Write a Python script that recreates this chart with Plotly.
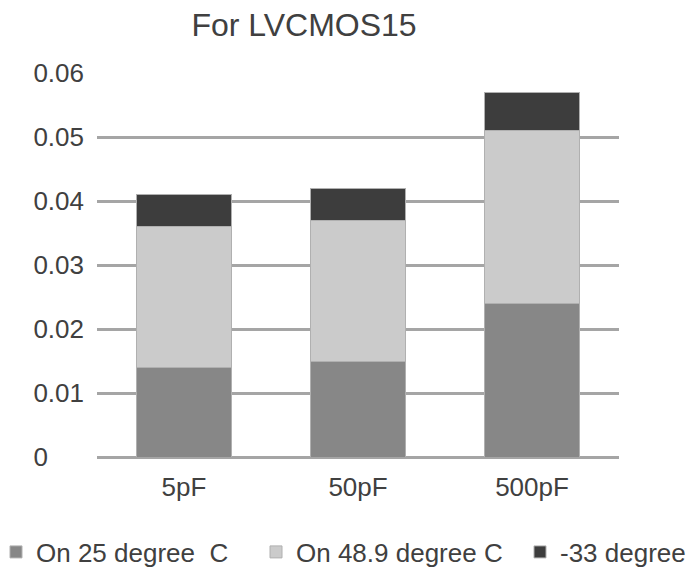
import plotly.graph_objects as go

categories = ["5pF", "50pF", "500pF"]
series_names = ["On 25 degree \u00a0C", "On 48.9 degree C", "-33 degree"]
on_25 = [0.014, 0.015, 0.024]
on_48_9 = [0.022, 0.022, 0.027]
minus_33 = [0.005, 0.005, 0.006]
colors = ["#878787", "#cbcbcb", "#3d3d3d"]
y_tickvals = [0, 0.01, 0.02, 0.03, 0.04, 0.05, 0.06]
y_ticktext = ["0\u2008\u2007\u2007", "0.01", "0.02", "0.03", "0.04", "0.05", "0.06"]

FONT = "Liberation Sans, Arial, sans-serif"
TXT = "#404040"
W, H = 687, 561
L, R, T, B = 89, 76, 65, 112
PW = W - L - R

legend_ids = ["legend", "legend2", "legend3"]
legend_x_px = [-12, 248, 512]

fig = go.Figure()
for name, vals, col, lid in zip(series_names, [on_25, on_48_9, minus_33], colors, legend_ids):
    fig.add_trace(go.Bar(
        x=categories, y=vals, name=name, legend=lid,
        marker=dict(color=col, line=dict(color="#b0b0b0", width=1)),
    ))

legend_common = dict(orientation="h", xref="paper", yref="container",
                     xanchor="left", y=1 - 544 / H, yanchor="middle",
                     font=dict(family=FONT, size=26, color=TXT),
                     itemwidth=30, bgcolor="rgba(0,0,0,0)")

fig.update_layout(
    barmode="stack",
    bargap=0.45,
    width=W, height=H,
    margin=dict(l=L, r=R, t=T, b=B, autoexpand=False),
    paper_bgcolor="white", plot_bgcolor="white",
    font=dict(family=FONT, size=26, color=TXT),
    title=dict(text="For LVCMOS15", x=296 / W, xanchor="center",
               yref="container", y=1 - 17 / H, yanchor="middle",
               automargin=False,
               font=dict(family=FONT, size=32, color=TXT)),
    showlegend=True,
    legend=dict(x=(legend_x_px[0] - L) / PW, **legend_common),
    legend2=dict(x=(legend_x_px[1] - L) / PW, **legend_common),
    legend3=dict(x=(legend_x_px[2] - L) / PW, **legend_common),
    xaxis=dict(showgrid=False, showline=False, ticks="", ticklabelstandoff=12,
               tickfont=dict(family=FONT, size=26, color=TXT)),
    yaxis=dict(range=[0, 0.06], tickvals=y_tickvals, ticktext=y_ticktext,
               showgrid=True, gridcolor="#a5a5a5", gridwidth=2.5,
               zeroline=True, zerolinecolor="#a5a5a5", zerolinewidth=2.5,
               showline=False, ticks="", ticklabelstandoff=12,
               tickfont=dict(family=FONT, size=26, color=TXT)),
)

fig.write_html("out.html")
